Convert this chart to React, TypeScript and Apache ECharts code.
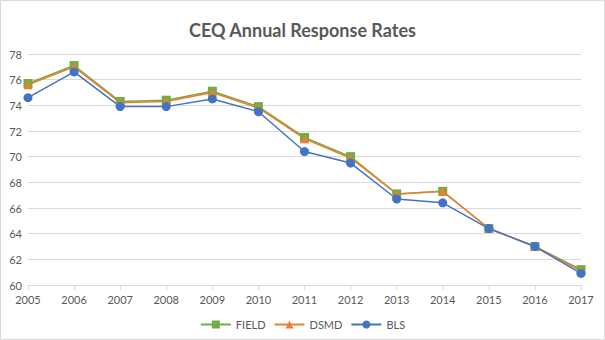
import React, { useEffect, useRef } from "react";
import * as echarts from "echarts";

const years = ["2005","2006","2007","2008","2009","2010","2011","2012","2013","2014","2015","2016","2017"];
const field = [75.7, 77.1, 74.3, 74.4, 75.1, 73.9, 71.5, 70.0, 67.1, 67.3, 64.4, 63.0, 61.2];
const dsmd = [75.6, 77.0, 74.2, 74.3, 75.0, 73.8, 71.4, 69.9, 67.1, 67.3, 64.4, 63.0, 61.1];
const bls = [74.6, 76.6, 73.9, 73.9, 74.5, 73.5, 70.4, 69.5, 66.7, 66.4, 64.4, 63.0, 60.9];

export default function App() {
  const ref = useRef<HTMLDivElement>(null);
  useEffect(() => {
    document.body.style.margin = "0";
    const chart = echarts.init(ref.current!, undefined, { renderer: "svg" });
    const txt = "#595959";
    const font = "Lato, 'Open Sans', sans-serif";
    chart.setOption({
      animation: false,
      backgroundColor: "#fff",
      textStyle: { fontFamily: font },
      title: {
        text: "CEQ Annual Response Rates",
        left: "center",
        top: 16,
        textStyle: { fontFamily: font, fontSize: 18, fontWeight: "bold", color: txt },
      },
      graphic: [
        {
          type: "rect",
          shape: { x: 0.5, y: 0.5, width: 604, height: 339 },
          style: { fill: "none", stroke: "#d9d9d9", lineWidth: 1 },
          silent: true,
        },
      ],
      grid: { left: 28, right: 24, top: 54, bottom: 55 },
      legend: {
        bottom: 5,
        left: "center",
        itemWidth: 30,
        itemHeight: 10,
        itemGap: 8,
        textStyle: { color: txt, fontSize: 11, fontFamily: font },
        data: ["FIELD", "DSMD", "BLS"],
      },
      xAxis: {
        type: "category",
        data: years,
        boundaryGap: false,
        axisLine: { lineStyle: { color: "#d9d9d9" } },
        axisTick: { show: true, length: 5, lineStyle: { color: "#d9d9d9" } },
        axisLabel: { color: txt, fontSize: 11, margin: 9, fontFamily: font },
      },
      yAxis: {
        type: "value",
        min: 60,
        max: 78,
        interval: 2,
        axisLine: { show: false },
        axisTick: { show: false },
        axisLabel: { color: txt, fontSize: 11, margin: 6, fontFamily: font },
        splitLine: { lineStyle: { color: "#d9d9d9" } },
      },
      series: [
        {
          name: "FIELD",
          type: "line",
          data: field,
          symbol: "rect",
          symbolSize: 9,
          color: "#70AD47",
          lineStyle: { width: 1.5 },
        },
        {
          name: "DSMD",
          type: "line",
          data: dsmd,
          symbol: "triangle",
          symbolSize: 9,
          color: "#ED7D31",
          lineStyle: { width: 1.5 },
        },
        {
          name: "BLS",
          type: "line",
          data: bls,
          symbol: "circle",
          symbolSize: 9,
          color: "#4472C4",
          lineStyle: { width: 1.5 },
        },
      ],
    });
    return () => chart.dispose();
  }, []);
  return <div ref={ref} style={{ width: 605, height: 340 }} />;
}
